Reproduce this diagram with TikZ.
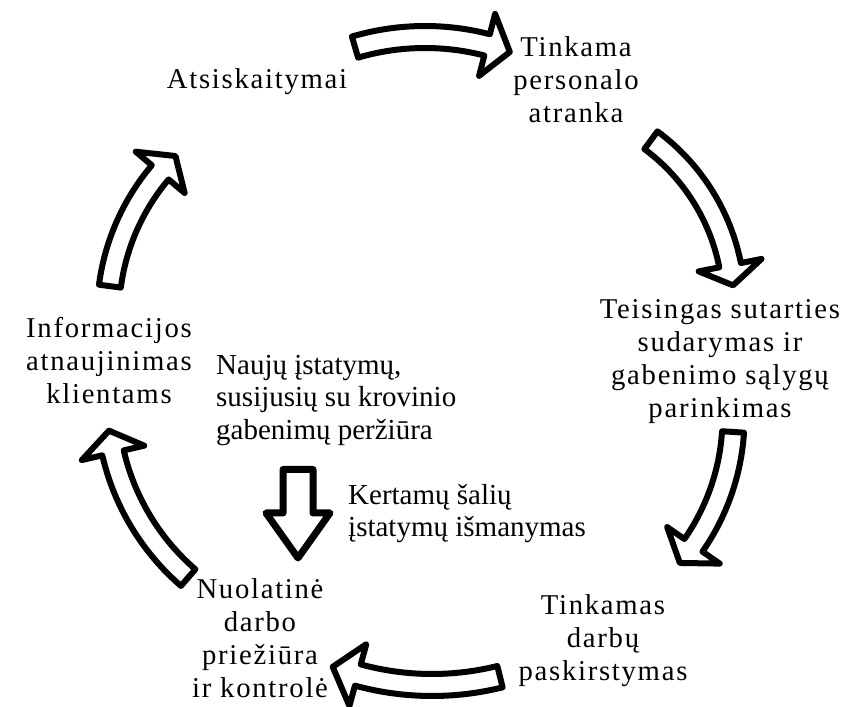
\documentclass[tikz,border=0pt]{standalone}
\usepackage{fontspec}
\setmainfont{Liberation Serif}
\newfontfamily\labelfont[LetterSpace=6]{Liberation Serif}
\newfontfamily\notefont{Liberation Serif}

% curved block arrow along a circle:
% #1,#2 centre, #3 radius of the mid line, #4 tail angle, #5 head-base angle, #6 tip angle
\newcommand\shaftw{11}
\newcommand\headw{32}
\newcommand\bentarrow[6]{%
  \pgfmathsetmacro\bro{#3+\shaftw}%
  \pgfmathsetmacro\bri{#3-\shaftw}%
  \pgfmathsetmacro\bhro{#3+\headw}%
  \pgfmathsetmacro\bhri{#3-\headw}%
  \draw[blockarrow,shift={(#1,#2)}]
    (#4:\bro) arc[start angle=#4, end angle=#5, radius=\bro]
    -- (#5:\bhro) -- (#6:#3) -- (#5:\bhri) -- (#5:\bri)
    arc[start angle=#5, end angle=#4, radius=\bri] -- cycle;}

\tikzset{
  blockarrow/.style={draw=black, fill=white, line width=6pt, line join=round},
  downarrow/.style={draw=black, fill=white, line width=7pt, line join=round},
  steplabel/.style={font=\labelfont\fontsize{28.7}{33}\selectfont, align=center, inner sep=0pt},
  notelabel/.style={font=\notefont\fontsize{29}{32.5}\selectfont, align=left, inner sep=0pt, anchor=west}
}

\begin{document}
\begin{tikzpicture}[x=1pt, y=1pt]
  \useasboundingbox (0,0) rectangle (861,706);
  \clip (0,0) rectangle (861,706);
  \fill[white] (0,0) rectangle (861,706);

  % steps of the cycle
  \node[steplabel] (pay)    at (257,624)   {Atsiskaitymai};
  \node[steplabel] (select) at (576,626)   {Tinkama\\personalo\\atranka};
  \node[steplabel] (deal)   at (720,344.5) {Teisingas sutarties\\sudarymas ir\\gabenimo sąlygų\\parinkimas};
  \node[steplabel] (assign) at (603,65)    {Tinkamas\\darbų\\paskirstymas};
  \node[steplabel] (watch)  at (260,67.5)  {Nuolatinė\\darbo\\priežiūra\\ir kontrolė};
  \node[steplabel] (inform) at (109,345.5) {Informacijos\\atnaujinimas\\klientams};

  % notes in the middle
  \node[notelabel] (laws)  at (216,305.5) {Naujų įstatymų,\\susijusių su krovinio\\gabenimų peržiūra};
  \node[notelabel] (cross) at (348,192.5) {Kertamų šalių\\įstatymų išmanymas};

  % arrows between the steps
  \bentarrow{425}{421}{248}{106.4}{75.5}{70}
  \bentarrow{529}{401}{205}{53.5}{11.2}{5.5}
  \bentarrow{509.5}{288.5}{224}{-3.7}{-34.8}{-40.5}
  \bentarrow{432}{302}{281}{-76}{-105.3}{-110.7}
  \bentarrow{342}{306}{235}{-130.9}{-167}{-172.5}
  \bentarrow{329}{391}{221}{172.5}{139.8}{134}

  % arrow from the notes down to the control step
  \draw[downarrow] (283,236.5) -- (313,236.5) -- (313,193) -- (330,193)
    -- (298,148) -- (266,193) -- (283,193) -- cycle;
\end{tikzpicture}
\end{document}
